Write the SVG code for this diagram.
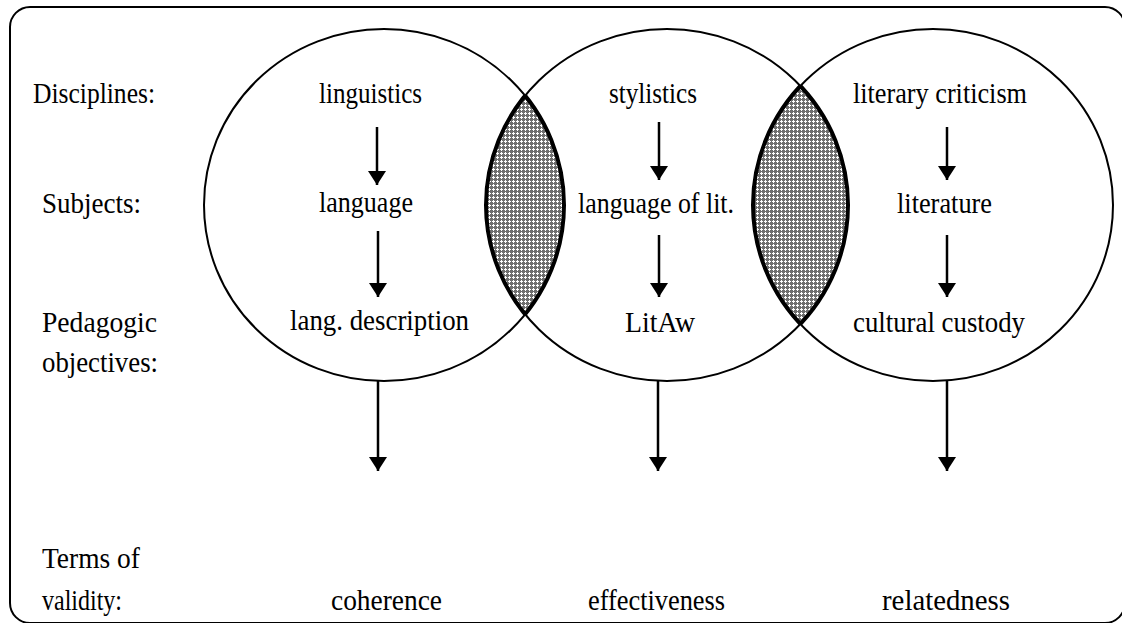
<svg xmlns="http://www.w3.org/2000/svg" width="1122" height="623" viewBox="0 0 1122 623">
  <style>
    .lbl { font-family: "Liberation Serif", "DejaVu Serif", "Times New Roman", serif; font-size: 30px; fill: #000; }
    .ring { fill: none; stroke: #000; stroke-width: 2; }
    .lens { stroke: #000; stroke-width: 4; }
    .conn line { stroke: #000; stroke-width: 2.5; marker-end: url(#head); }
  </style>
  <defs>
    <pattern id="hatch" width="4" height="4" patternUnits="userSpaceOnUse">
      <rect width="4" height="4" fill="#6f6f6f"/>
      <rect x="1" y="0" width="1" height="3" fill="#fff"/>
      <rect x="0" y="1" width="3" height="1" fill="#fff"/>
    </pattern>
    <marker id="head" markerUnits="userSpaceOnUse" markerWidth="16" markerHeight="20" refX="14" refY="10" orient="auto">
      <path d="M0,1 L14,10 L0,19 z" fill="#000"/>
    </marker>
    <clipPath id="clipA"><ellipse cx="384" cy="205" rx="180" ry="176"/></clipPath>
    <clipPath id="clipB"><ellipse cx="667" cy="205" rx="181" ry="176"/></clipPath>
    <clipPath id="clipC"><ellipse cx="933" cy="205" rx="180" ry="176"/></clipPath>
  </defs>

  <rect width="1122" height="623" fill="#fff"/>
  <!-- outer frame -->
  <rect x="10" y="7" width="1115" height="616" rx="20" ry="20" fill="none" stroke="#000" stroke-width="2"/>

  <!-- row labels -->
  <g id="row-labels">
    <text class="lbl" x="33" y="103" textLength="122" lengthAdjust="spacingAndGlyphs">Disciplines:</text>
    <text class="lbl" x="42" y="213" textLength="99" lengthAdjust="spacingAndGlyphs">Subjects:</text>
    <text class="lbl" x="42" y="332" textLength="115" lengthAdjust="spacingAndGlyphs">Pedagogic</text>
    <text class="lbl" x="42" y="372" textLength="116" lengthAdjust="spacingAndGlyphs">objectives:</text>
    <text class="lbl" x="42" y="568" textLength="98" lengthAdjust="spacingAndGlyphs">Terms of</text>
    <text class="lbl" x="42" y="610" textLength="80" lengthAdjust="spacingAndGlyphs">validity:</text>
  </g>

  <!-- overlap lenses -->
  <g id="overlap-1">
    <ellipse class="lens" cx="667" cy="205" rx="181" ry="176" fill="url(#hatch)" clip-path="url(#clipA)"/>
    <ellipse cx="384" cy="205" rx="180" ry="176" fill="none" stroke="#000" stroke-width="4" clip-path="url(#clipB)"/>
  </g>
  <g id="overlap-2">
    <ellipse class="lens" cx="933" cy="205" rx="180" ry="176" fill="url(#hatch)" clip-path="url(#clipB)"/>
    <ellipse cx="667" cy="205" rx="181" ry="176" fill="none" stroke="#000" stroke-width="4" clip-path="url(#clipC)"/>
  </g>

  <!-- linguistics circle -->
  <g id="circle-linguistics">
    <ellipse class="ring" cx="384" cy="205" rx="180" ry="176"/>
    <text class="lbl" x="319" y="103" textLength="103" lengthAdjust="spacingAndGlyphs">linguistics</text>
    <text class="lbl" x="319" y="212" textLength="94" lengthAdjust="spacingAndGlyphs">language</text>
    <text class="lbl" x="290" y="330" textLength="179" lengthAdjust="spacingAndGlyphs">lang. description</text>
  </g>

  <!-- stylistics circle -->
  <g id="circle-stylistics">
    <ellipse class="ring" cx="667" cy="205" rx="181" ry="176"/>
    <text class="lbl" x="609" y="103" textLength="88" lengthAdjust="spacingAndGlyphs">stylistics</text>
    <text class="lbl" x="578" y="213" textLength="156" lengthAdjust="spacingAndGlyphs">language of lit.</text>
    <text class="lbl" x="625" y="332" textLength="70" lengthAdjust="spacingAndGlyphs">LitAw</text>
  </g>

  <!-- literary criticism circle -->
  <g id="circle-literary-criticism">
    <ellipse class="ring" cx="933" cy="205" rx="180" ry="176"/>
    <text class="lbl" x="853" y="103" textLength="174" lengthAdjust="spacingAndGlyphs">literary criticism</text>
    <text class="lbl" x="897" y="213" textLength="95" lengthAdjust="spacingAndGlyphs">literature</text>
    <text class="lbl" x="853" y="332" textLength="172" lengthAdjust="spacingAndGlyphs">cultural custody</text>
  </g>

  <!-- validity terms -->
  <g id="term-coherence">
    <text class="lbl" x="331" y="610" textLength="111" lengthAdjust="spacingAndGlyphs">coherence</text>
  </g>
  <g id="term-effectiveness">
    <text class="lbl" x="588" y="610" textLength="137" lengthAdjust="spacingAndGlyphs">effectiveness</text>
  </g>
  <g id="term-relatedness">
    <text class="lbl" x="882" y="610" textLength="128" lengthAdjust="spacingAndGlyphs">relatedness</text>
  </g>

  <!-- connectors -->
  <g id="connectors" class="conn">
    <line x1="377" y1="127" x2="377" y2="185"/>
    <line x1="378" y1="231" x2="378" y2="297"/>
    <line x1="659" y1="122" x2="659" y2="180"/>
    <line x1="659" y1="235" x2="659" y2="297"/>
    <line x1="947" y1="127" x2="947" y2="180"/>
    <line x1="947" y1="235" x2="947" y2="297"/>
    <line x1="378" y1="381" x2="378" y2="471"/>
    <line x1="658" y1="381" x2="658" y2="471"/>
    <line x1="947" y1="381" x2="947" y2="471"/>
  </g>
</svg>
